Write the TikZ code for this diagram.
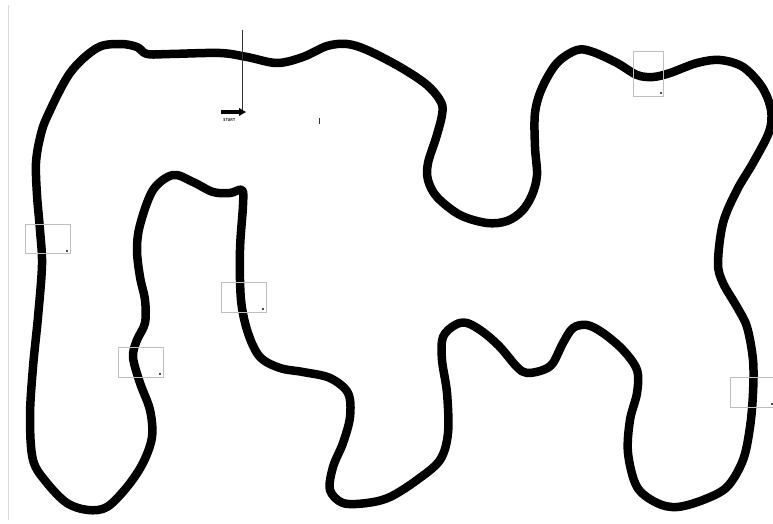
\documentclass[tikz,border=0pt]{standalone}
\usetikzlibrary{arrows.meta}
\begin{document}
\begin{tikzpicture}[x=1pt,y=-1pt,
  track/.style={line width=8.5pt, line join=round, black},
  cpbox/.style={draw=black!25, line width=0.8pt, inner sep=0pt, fill=none},
  cpdot/.style={fill=black!70, inner sep=0pt, minimum size=1.6pt},
  thinline/.style={draw=black!80, line width=0.6pt}]
\useasboundingbox (0,0) rectangle (773,524);
\fill[white] (0,0) rectangle (773,524);
% faint left margin line
\coordinate (mt) at (8,5);
\coordinate (mb) at (8,520);
\draw[black!15, line width=0.8pt] (mt) -- (mb);
% track
\draw[track] plot[smooth cycle, tension=0.55] coordinates {
 (40,230) (37,195) (36,163) (40,138) (47,117) (70,73) (97,48) (120,44) (137,47) (147,54)
 (170,54) (220,53) (247,57) (277,63) (303,57) (327,46) (347,44) (367,50) (400,67)
 (427,85) (441,102) (442,115) (436,138) (428,163) (428,180) (437,197) (460,215)
 (487,223) (507,221) (522,211) (532,195) (537,175) (535,147) (535,113) (542,88)
 (557,63) (577,50) (593,52) (617,63) (637,75) (653,77) (670,73) (697,63) (720,60)
 (743,67) (762,87) (771,110) (769,132) (753,163) (737,190) (723,223) (718,263)
 (723,283) (737,307) (747,327) (753,360) (753,393) (750,427) (743,460) (727,487)
 (703,500) (677,507) (657,503) (637,487) (628,453) (630,420) (637,393) (637,370)
 (623,350) (603,333) (587,325) (573,328) (563,343) (553,363) (543,370) (527,373)
 (517,367) (500,347) (483,332) (467,323) (455,325) (443,337) (442,360) (447,393)
 (448,433) (440,460) (417,480) (390,497) (367,503) (343,503) (330,490) (333,467)
 (343,443) (350,417) (348,393) (330,378) (303,372) (280,368) (260,357) (248,333)
 (241,300) (240,250) (243,205) (242,190) (230,193) (213,192) (193,182) (173,175)
 (153,190) (140,225) (137,250) (140,277) (145,300) (145,323) (137,340) (133,357)
 (140,383) (150,410) (152,437) (143,463) (127,487) (107,507) (88,510) (67,503)
 (47,483) (33,460) (30,417) (33,367) (38,317) (42,265)
};
% checkpoint boxes
\node[cpbox, minimum width=45pt, minimum height=29pt] (b1) at (47.5,238.5) {};
\node[cpdot] (d1) at (67,251) {};
\node[cpbox, minimum width=45pt, minimum height=30pt] (b2) at (140.5,362) {};
\node[cpdot] (d2) at (160,374) {};
\node[cpbox, minimum width=45pt, minimum height=30pt] (b3) at (243.5,297) {};
\node[cpdot] (d3) at (263,309) {};
\node[cpbox, minimum width=30pt, minimum height=45pt] (b4) at (648,73.5) {};
\node[cpdot] (d4) at (661,93) {};
\node[cpbox, minimum width=45pt, minimum height=30pt] (b5) at (752.5,392) {};
\node[cpdot] (d5) at (772,404) {};
% start line and arrow
\coordinate (vt) at (242,30);
\coordinate (vb) at (242,112);
\draw[thinline] (vt) -- (vb);
\coordinate (at) at (221,112);
\coordinate (ah) at (246,112);
\draw[line width=3.6pt, -{Triangle[length=7pt,width=7.5pt]}] (at) -- (ah);
\node[font=\sffamily\bfseries, scale=0.42, xscale=0.85, inner sep=0pt] (start) at (229.5,120) {START};
% small tick
\coordinate (tt) at (319,118);
\coordinate (tb) at (319,124);
\draw[thinline] (tt) -- (tb);
\end{tikzpicture}
\end{document}
